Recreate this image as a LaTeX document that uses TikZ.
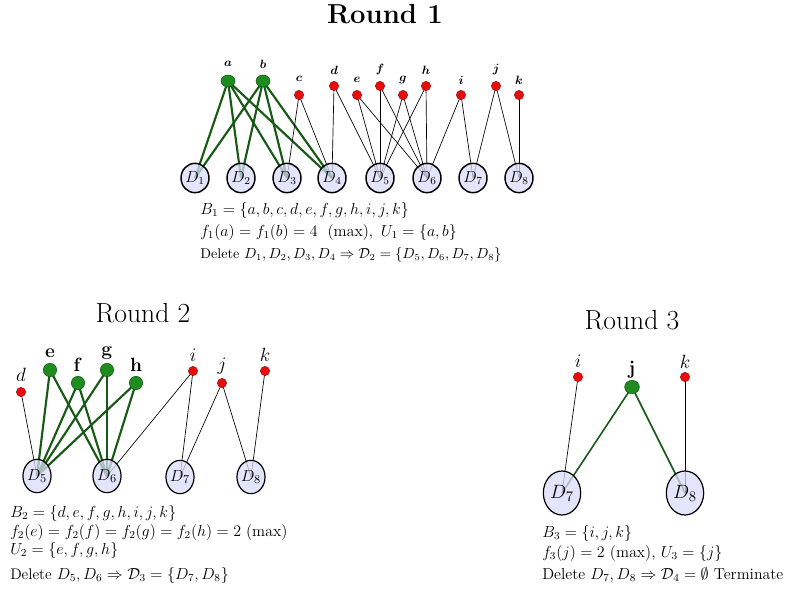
\documentclass[tikz,border=0pt]{standalone}
\usepackage{amsmath}
\usetikzlibrary{shapes.geometric,backgrounds}
\definecolor{gfill}{RGB}{30,140,30}
\definecolor{gdraw}{RGB}{15,90,15}
\definecolor{gedge}{RGB}{22,90,22}
\definecolor{rfill}{RGB}{232,12,12}
\definecolor{dfill}{RGB}{218,220,248}
\begin{document}
\begin{tikzpicture}[x=0.75pt,y=-0.75pt,
 gn/.style={ellipse,fill=gfill,draw=gdraw,line width=0.4pt,inner sep=0pt,minimum width=10.5pt,minimum height=9pt},
 rn/.style={circle,fill=rfill,draw=red!60!black,line width=0.3pt,inner sep=0pt,minimum size=7pt},
 dn/.style={ellipse,draw=black,line width=1.1pt,fill=dfill,fill opacity=0.75,text opacity=1,inner sep=0pt,minimum width=21pt,minimum height=22pt,font=\fontsize{12}{12}\selectfont},
 dnb/.style={dn,minimum width=21pt,minimum height=25pt,line width=0.9pt,font=\fontsize{12.5}{12.5}\selectfont},
 dnc/.style={dn,minimum width=28pt,minimum height=33pt,line width=0.9pt,font=\fontsize{15}{15}\selectfont},
 ge/.style={draw=gedge,line width=1.6pt},
 be/.style={draw=black,line width=0.5pt},
 lab/.style={inner sep=0pt,font=\fontsize{9.5}{9.5}\selectfont\boldmath},
 labb/.style={inner sep=0pt,font=\fontsize{13.5}{13.5}\selectfont},
 title/.style={inner sep=0pt,font=\fontsize{20.7}{20.7}\selectfont},
 txt/.style={inner sep=0pt,anchor=west,font=\fontsize{11.5}{14}\selectfont},
 txtb/.style={inner sep=0pt,anchor=west,font=\fontsize{11.5}{13}\selectfont},
 txtc/.style={inner sep=0pt,anchor=west,font=\fontsize{11.9}{13}\selectfont}
]
\useasboundingbox (0,0) rectangle (799,592);
% ---------- Round 1 ----------
\node[title,font=\fontsize{20.6}{20.6}\selectfont\bfseries] (t1) at (385,14) {Round 1};
\node[gn] (a1) at (228,81) {};
\node[gn] (b1) at (263,81) {};
\node[rn] (c1) at (299,95) {};
\node[rn] (d1) at (334,86) {};
\node[rn] (e1) at (357,95) {};
\node[rn] (f1) at (380,86) {};
\node[rn] (g1) at (403,95) {};
\node[rn] (h1) at (426,86) {};
\node[rn] (i1) at (461,95) {};
\node[rn] (j1) at (496,86) {};
\node[rn] (k1) at (519,95) {};
\node[lab] (la1) at (228,64) {$a$};
\node[lab] (lb1) at (263,64) {$b$};
\node[lab] (lc1) at (299,79) {$c$};
\node[lab] (ld1) at (334,70) {$d$};
\node[lab] (le1) at (357,80) {$e$};
\node[lab] (lf1) at (380,70) {$f$};
\node[lab] (lg1) at (403,80) {$g$};
\node[lab] (lh1) at (426,70) {$h$};
\node[lab] (li1) at (461,80) {$i$};
\node[lab] (lj1) at (496,70) {$j$};
\node[lab] (lk1) at (519,80) {$k$};
\node[dn] (D1) at (195,178) {$D_1$};
\node[dn] (D2) at (241,178) {$D_2$};
\node[dn] (D3) at (287,178) {$D_3$};
\node[dn] (D4) at (332,178) {$D_4$};
\node[dn] (D5) at (380,178) {$D_5$};
\node[dn] (D6) at (427,178) {$D_6$};
\node[dn] (D7) at (473,178) {$D_7$};
\node[dn] (D8) at (519,178) {$D_8$};
\begin{pgfonlayer}{background}
\foreach \s in {a1,b1}{\foreach \t in {D1,D2,D3,D4}{\draw[ge] (\s.center) -- (\t.center);}}
\foreach \s/\t in {c1/D3,c1/D4,d1/D4,d1/D5,e1/D5,e1/D6,f1/D5,f1/D6,g1/D5,g1/D6,h1/D5,h1/D6,i1/D6,i1/D7,j1/D7,j1/D8,k1/D8}{\draw[be] (\s.center) -- (\t.center);}
\end{pgfonlayer}
\node[txt] (r1a) at (200,210) {$B_1=\{a,b,c,d,e,f,g,h,i,j,k\}$};
\node[txt] (r1b) at (200,232) {$f_1(a)=f_1(b)=4\ \ (\max),\ U_1=\{a,b\}$};
\node[txt,font=\fontsize{10.6}{13}\selectfont] (r1c) at (200,255) {Delete $D_1,D_2,D_3,D_4\Rightarrow\mathcal{D}_2=\{D_5,D_6,D_7,D_8\}$};
% ---------- Round 2 ----------
\node[title] (t2) at (143,313) {Round 2};
\node[rn] (d2) at (21,392) {};
\node[gn,minimum width=10pt,minimum height=10pt] (e2) at (50,370) {};
\node[gn,minimum width=10pt,minimum height=10pt] (f2) at (78,383) {};
\node[gn,minimum width=10pt,minimum height=10pt] (g2) at (107,370) {};
\node[gn,minimum width=10pt,minimum height=10pt] (h2) at (136,383) {};
\node[rn] (i2) at (193,371) {};
\node[rn] (j2) at (222,383) {};
\node[rn] (k2) at (265,371) {};
\node[labb] (ld2) at (21,375) {$d$};
\node[labb] (le2) at (50,353) {$\mathbf{e}$};
\node[labb] (lf2) at (78,365) {$\mathbf{f}$};
\node[labb] (lg2) at (107,353) {$\mathbf{g}$};
\node[labb] (lh2) at (136,365) {$\mathbf{h}$};
\node[labb] (li2) at (193,355) {$i$};
\node[labb] (lj2) at (222,366) {$j$};
\node[labb] (lk2) at (265,355) {$k$};
\node[dnb] (D52) at (37,476) {$D_5$};
\node[dnb] (D62) at (107,476) {$D_6$};
\node[dnb] (D72) at (180,477) {$D_7$};
\node[dnb] (D82) at (251,477) {$D_8$};
\begin{pgfonlayer}{background}
\foreach \s in {e2,f2,g2,h2}{\foreach \t in {D52,D62}{\draw[ge] (\s.center) -- (\t.center);}}
\foreach \s/\t in {d2/D52,i2/D62,i2/D72,j2/D72,j2/D82,k2/D82}{\draw[be] (\s.center) -- (\t.center);}
\end{pgfonlayer}
\node[txtb] (r2a) at (10,513) {$B_2=\{d,e,f,g,h,i,j,k\}$};
\node[txtb] (r2b) at (10,532) {$f_2(e)=f_2(f)=f_2(g)=f_2(h)=2\ (\max)$};
\node[txtb] (r2c) at (10,550) {$U_2=\{e,f,g,h\}$};
\node[txtb] (r2d) at (10,575) {Delete $D_5,D_6\Rightarrow\mathcal{D}_3=\{D_7,D_8\}$};
% ---------- Round 3 ----------
\node[title] (t3) at (632,320) {Round 3};
\node[rn] (i3) at (578,377) {};
\node[gn,minimum width=11pt,minimum height=10pt] (j3) at (632,387) {};
\node[rn] (k3) at (685,377) {};
\node[labb] (li3) at (578,361) {$i$};
\node[labb] (lj3) at (632,370) {$\mathbf{j}$};
\node[labb] (lk3) at (685,362) {$k$};
\node[dnc] (D73) at (562,493) {$D_7$};
\node[dnc] (D83) at (685,493) {$D_8$};
\begin{pgfonlayer}{background}
\draw[ge,line width=1.2pt] (j3.center) -- (D73.center);
\draw[ge,line width=1.2pt] (j3.center) -- (D83.center);
\draw[be] (i3.center) -- (D73.center);
\draw[be] (k3.center) -- (D83.center);
\end{pgfonlayer}
\node[txtc] (r3a) at (542,533) {$B_3=\{i,j,k\}$};
\node[txtc] (r3b) at (542,553) {$f_3(j)=2\ (\max),\, U_3=\{j\}$};
\node[txtc] (r3c) at (542,575) {Delete $D_7,D_8\Rightarrow\mathcal{D}_4=\emptyset$ Terminate};
\end{tikzpicture}
\end{document}
